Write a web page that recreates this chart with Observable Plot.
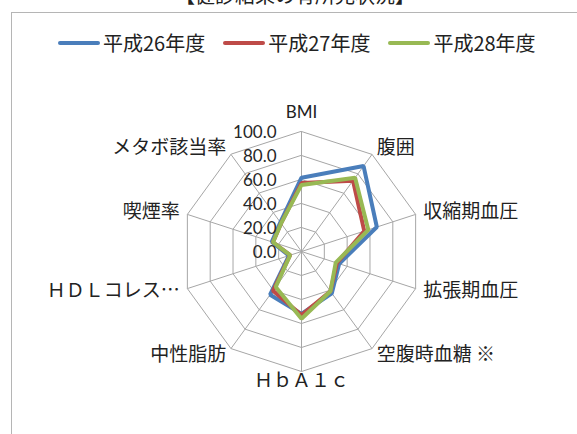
<!DOCTYPE html>
<html>
<head>
<meta charset="utf-8">
<script src="https://cdn.jsdelivr.net/npm/d3@7"></script>
<script src="https://cdn.jsdelivr.net/npm/@observablehq/plot@0.6"></script>
<style>
  html, body { margin: 0; padding: 0; background: #fff; }
  body { width: 577px; height: 434px; overflow: hidden; position: relative; font-family: "Noto Sans CJK JP", sans-serif; color: #222; }
  #title { position: absolute; left: 0; width: 590px; top: -15px; text-align: center; font-size: 20px; line-height: 20px; white-space: nowrap; }
  #frame { position: absolute; left: 11px; top: 12px; width: 620px; height: 500px; border-left: 1.5px solid #b5b5b5; border-top: 1.5px solid #b5b5b5; }
  #legend { position: absolute; left: 58px; top: 31px; display: flex; align-items: center; font-size: 20px; line-height: 24px; white-space: nowrap; }
  .item { display: flex; align-items: center; margin-right: 18px; }
  .sw { width: 42px; height: 4px; border-radius: 2px; margin-right: 3px; }
  #chart { position: absolute; left: 0; top: 62px; }
</style>
</head>
<body>
<div id="title">【健診結果の有所見状況】</div>
<div id="frame"></div>
<div id="legend"></div>
<div id="chart"></div>
<script>
// ---- data ----
const categories = ["BMI", "腹囲", "収縮期血圧", "拡張期血圧", "空腹時血糖 ※", "ＨｂＡ１ｃ", "中性脂肪", "ＨＤＬコレス…", "喫煙率", "メタボ該当率"];
const seriesNames = ["平成26年度", "平成27年度", "平成28年度"];
const h26 = [61.5, 88, 66, 33, 43, 52, 44.5, 11, 26, 30];
const h27 = [57, 73, 55, 31, 41, 53, 40.5, 10, 25, 29];
const h28 = [55.5, 76, 58.5, 30, 41, 56, 36.5, 10, 25, 29];
const tickValues = [0, 20, 40, 60, 80, 100];
const seriesColors = ["#4A7EBB", "#BE4B48", "#98B954"];

// ---- build ----
const n = categories.length;
const ang = i => i * 2 * Math.PI / n;
const ptX = (i, v) => v * Math.sin(ang(i));
const ptY = (i, v) => v * Math.cos(ang(i));

const seriesValues = [h26, h27, h28];
const rows = [];
seriesNames.forEach((s, k) => seriesValues[k].forEach((v, i) => rows.push({series: s, cat: categories[i], i, v})));

const ringRows = [];
tickValues.filter(t => t > 0).forEach(t => categories.forEach((c, i) => ringRows.push({ring: t, i})));

const spokes = categories.map((c, i) => ({i}));

// legend
const leg = document.getElementById("legend");
seriesNames.forEach((s, k) => {
  const it = document.createElement("div"); it.className = "item";
  const sw = document.createElement("div"); sw.className = "sw"; sw.style.background = seriesColors[k];
  const tx = document.createElement("span"); tx.textContent = s;
  it.appendChild(sw); it.appendChild(tx); leg.appendChild(it);
});

const W = 577, H = 372, cx = 301, cy = 189, R = 120;
const k = R / 100;

const labelMarks = categories.map((c, i) => {
  const s = Math.sin(ang(i)), co = Math.cos(ang(i));
  const extra = co > 0.99 ? 11 : co < -0.99 ? 1 : 0;
  const anchor = s > 0.01 ? "start" : s < -0.01 ? "end" : "middle";
  const latin = /^[A-Za-z]+$/.test(c);
  return Plot.text([c], {
    x: () => ptX(i, 100), y: () => ptY(i, 100), text: d => d,
    dx: 8 * s, dy: -(8 + extra) * co,
    textAnchor: anchor, lineAnchor: "middle",
    fontFamily: latin ? "Lato" : "Noto Sans CJK JP",
    fontSize: latin ? 17 : 19, fill: "#222"
  });
});

const chart = Plot.plot({
  width: W, height: H,
  margin: 0,
  x: {domain: [-cx / k, (W - cx) / k], axis: null},
  y: {domain: [(cy - H) / k, cy / k], axis: null},
  color: {domain: seriesNames, range: seriesColors},
  marks: [
    Plot.line(ringRows, {x: d => ptX(d.i, d.ring), y: d => ptY(d.i, d.ring), z: "ring", curve: "linear-closed", stroke: "#a6a6a6", strokeWidth: 1}),
    Plot.link(spokes, {x1: () => 0, y1: () => 0, x2: d => ptX(d.i, 100), y2: d => ptY(d.i, 100), stroke: "#a6a6a6", strokeWidth: 1}),
    Plot.line(rows, {x: d => ptX(d.i, d.v), y: d => ptY(d.i, d.v), z: "series", stroke: "series", curve: "linear-closed", strokeWidth: 4, strokeLinejoin: "miter"}),
    Plot.text(tickValues, {x: () => 0, y: d => d, text: d => d.toFixed(1), textAnchor: "end", dx: -25, dy: 1, fontFamily: "Lato", fontSize: 17, fill: "#262626"}),
    ...labelMarks
  ]
});
document.getElementById("chart").appendChild(chart);
</script>
</body>
</html>
